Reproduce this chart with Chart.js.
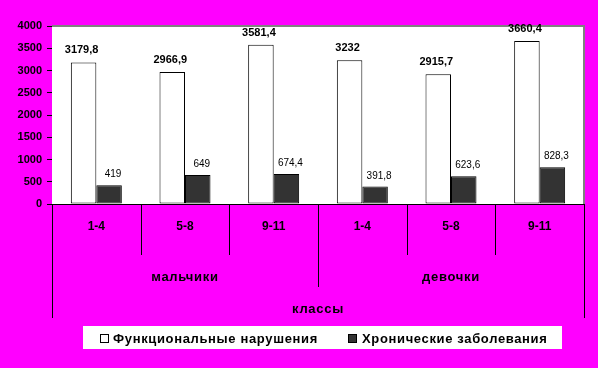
<!DOCTYPE html>
<html>
<head>
<meta charset="utf-8">
<script src="https://cdn.jsdelivr.net/npm/chart.js@4.4.1/dist/chart.umd.min.js"></script>
<style>
html,body{margin:0;padding:0;background:#ff00ff;}
#wrap{width:598px;height:368px;}
</style>
</head>
<body>
<div id="wrap"><canvas id="c" width="598" height="368"></canvas></div>
<script>
const categories = ["1-4", "5-8", "9-11", "1-4", "5-8", "9-11"];
const groups = ["мальчики", "девочки"];
const axisTitle = "классы";
const seriesNames = ["Функциональные нарушения", "Хронические заболевания"];
const functional = [3179.8, 2966.9, 3581.4, 3232, 2915.7, 3660.4];
const chronic = [419, 649, 674.4, 391.8, 623.6, 828.3];
const yTicks = [0, 500, 1000, 1500, 2000, 2500, 3000, 3500, 4000];

const FONT = "'Liberation Sans', Arial, sans-serif";

const fmt = v => String(v).replace('.', ',');

const decor = {
  id: 'decor',
  beforeDatasetsDraw(chart) {
    const {ctx, chartArea: a} = chart;
    ctx.save();
    ctx.fillStyle = '#ffffff';
    ctx.fillRect(a.left, a.top, a.right - a.left, a.bottom - a.top);
    ctx.restore();
  },
  afterDraw(chart) {
    const {ctx, chartArea: a} = chart;
    const x = chart.scales.x;
    ctx.save();
    // gray plot border top/right
    ctx.strokeStyle = '#808080';
    ctx.lineWidth = 2;
    ctx.beginPath();
    ctx.moveTo(a.left, a.top);
    ctx.lineTo(a.right, a.top);
    ctx.lineTo(a.right, a.bottom);
    ctx.stroke();
    // axis divider lines
    const n = categories.length;
    const cw = (x.right - x.left) / n;
    ctx.strokeStyle = '#000';
    ctx.lineWidth = 1;
    for (let i = 0; i <= n; i++) {
      const px = Math.round(x.left + i * cw) + 0.5;
      let len = 51;
      if (i === n / 2) len = 83;
      if (i === 0 || i === n) len = 114;
      ctx.beginPath();
      ctx.moveTo(px, a.bottom);
      ctx.lineTo(px, a.bottom + len);
      ctx.stroke();
    }
    // group labels
    ctx.fillStyle = '#000';
    ctx.font = 'bold 13px ' + FONT;
    ctx.letterSpacing = '0.7px';
    ctx.textAlign = 'center';
    ctx.textBaseline = 'middle';
    const per = n / groups.length;
    groups.forEach((g, gi) => {
      const cx = x.left + (gi * per + per / 2) * cw;
      ctx.fillText(g, cx, a.bottom + 73);
    });
    ctx.fillText(axisTitle, (x.left + x.right) / 2, a.bottom + 105);
    ctx.letterSpacing = '0px';

    // data labels
    chart.data.datasets.forEach((ds, di) => {
      const meta = chart.getDatasetMeta(di);
      meta.data.forEach((bar, i) => {
        ctx.textBaseline = 'alphabetic';
        if (di === 0) {
          ctx.font = 'bold 11px ' + FONT;
          ctx.fillText(fmt(ds.data[i]), bar.x - 2, bar.y - 9);
        } else {
          ctx.font = '10px ' + FONT;
          ctx.fillText(fmt(ds.data[i]), bar.x + 4, bar.y - 8);
        }
      });
    });

    // legend
    ctx.fillStyle = '#ffffff';
    ctx.fillRect(83, 326, 479, 23);
    const items = [{bx: 100, tx: 113}, {bx: 348, tx: 362}];
    ctx.font = 'bold 13px ' + FONT;
    ctx.letterSpacing = '0.65px';
    ctx.textAlign = 'left';
    ctx.textBaseline = 'middle';
    chart.data.datasets.forEach((ds, di) => {
      const it = items[di];
      ctx.fillStyle = ds.backgroundColor;
      ctx.fillRect(it.bx, 334, 9, 9);
      ctx.strokeStyle = '#000';
      ctx.lineWidth = 1;
      ctx.strokeRect(it.bx + 0.5, 334.5, 8, 8);
      ctx.fillStyle = '#000';
      ctx.fillText(ds.label, it.tx, 339);
    });
    ctx.letterSpacing = '0px';
    ctx.restore();
  }
};

new Chart(document.getElementById('c'), {
  type: 'bar',
  data: {
    labels: categories,
    datasets: [
      {label: seriesNames[0], data: functional, backgroundColor: '#ffffff', borderColor: '#000000', borderWidth: 1, borderSkipped: false},
      {label: seriesNames[1], data: chronic, backgroundColor: '#333333', borderColor: '#000000', borderWidth: 1, borderSkipped: false}
    ]
  },
  options: {
    responsive: false,
    animation: false,
    devicePixelRatio: 1,
    layout: {padding: {left: 0, right: 14, top: 26, bottom: 0}},
    plugins: {legend: {display: false}, tooltip: {enabled: false}},
    datasets: {bar: {categoryPercentage: 0.575, barPercentage: 1}},
    scales: {
      x: {
        grid: {drawOnChartArea: false, drawTicks: false},
        border: {display: true, color: '#000', width: 1},
        ticks: {color: '#000', font: {family: FONT, size: 12, weight: 'bold'}, padding: 15, maxRotation: 0},
        afterFit(s) { s.height = 164; }
      },
      y: {
        min: 0, max: 4000,
        afterBuildTicks(s) { s.ticks = yTicks.map(v => ({value: v})); },
        grid: {drawOnChartArea: false, drawTicks: true, tickLength: 5, color: '#000'},
        border: {display: true, color: '#000', width: 1},
        ticks: {color: '#000', font: {family: FONT, size: 11, weight: 'bold'}, padding: 5, callback: v => String(v)},
        afterFit(s) { s.width = 52; }
      }
    }
  },
  plugins: [decor]
});
</script>
</body>
</html>
